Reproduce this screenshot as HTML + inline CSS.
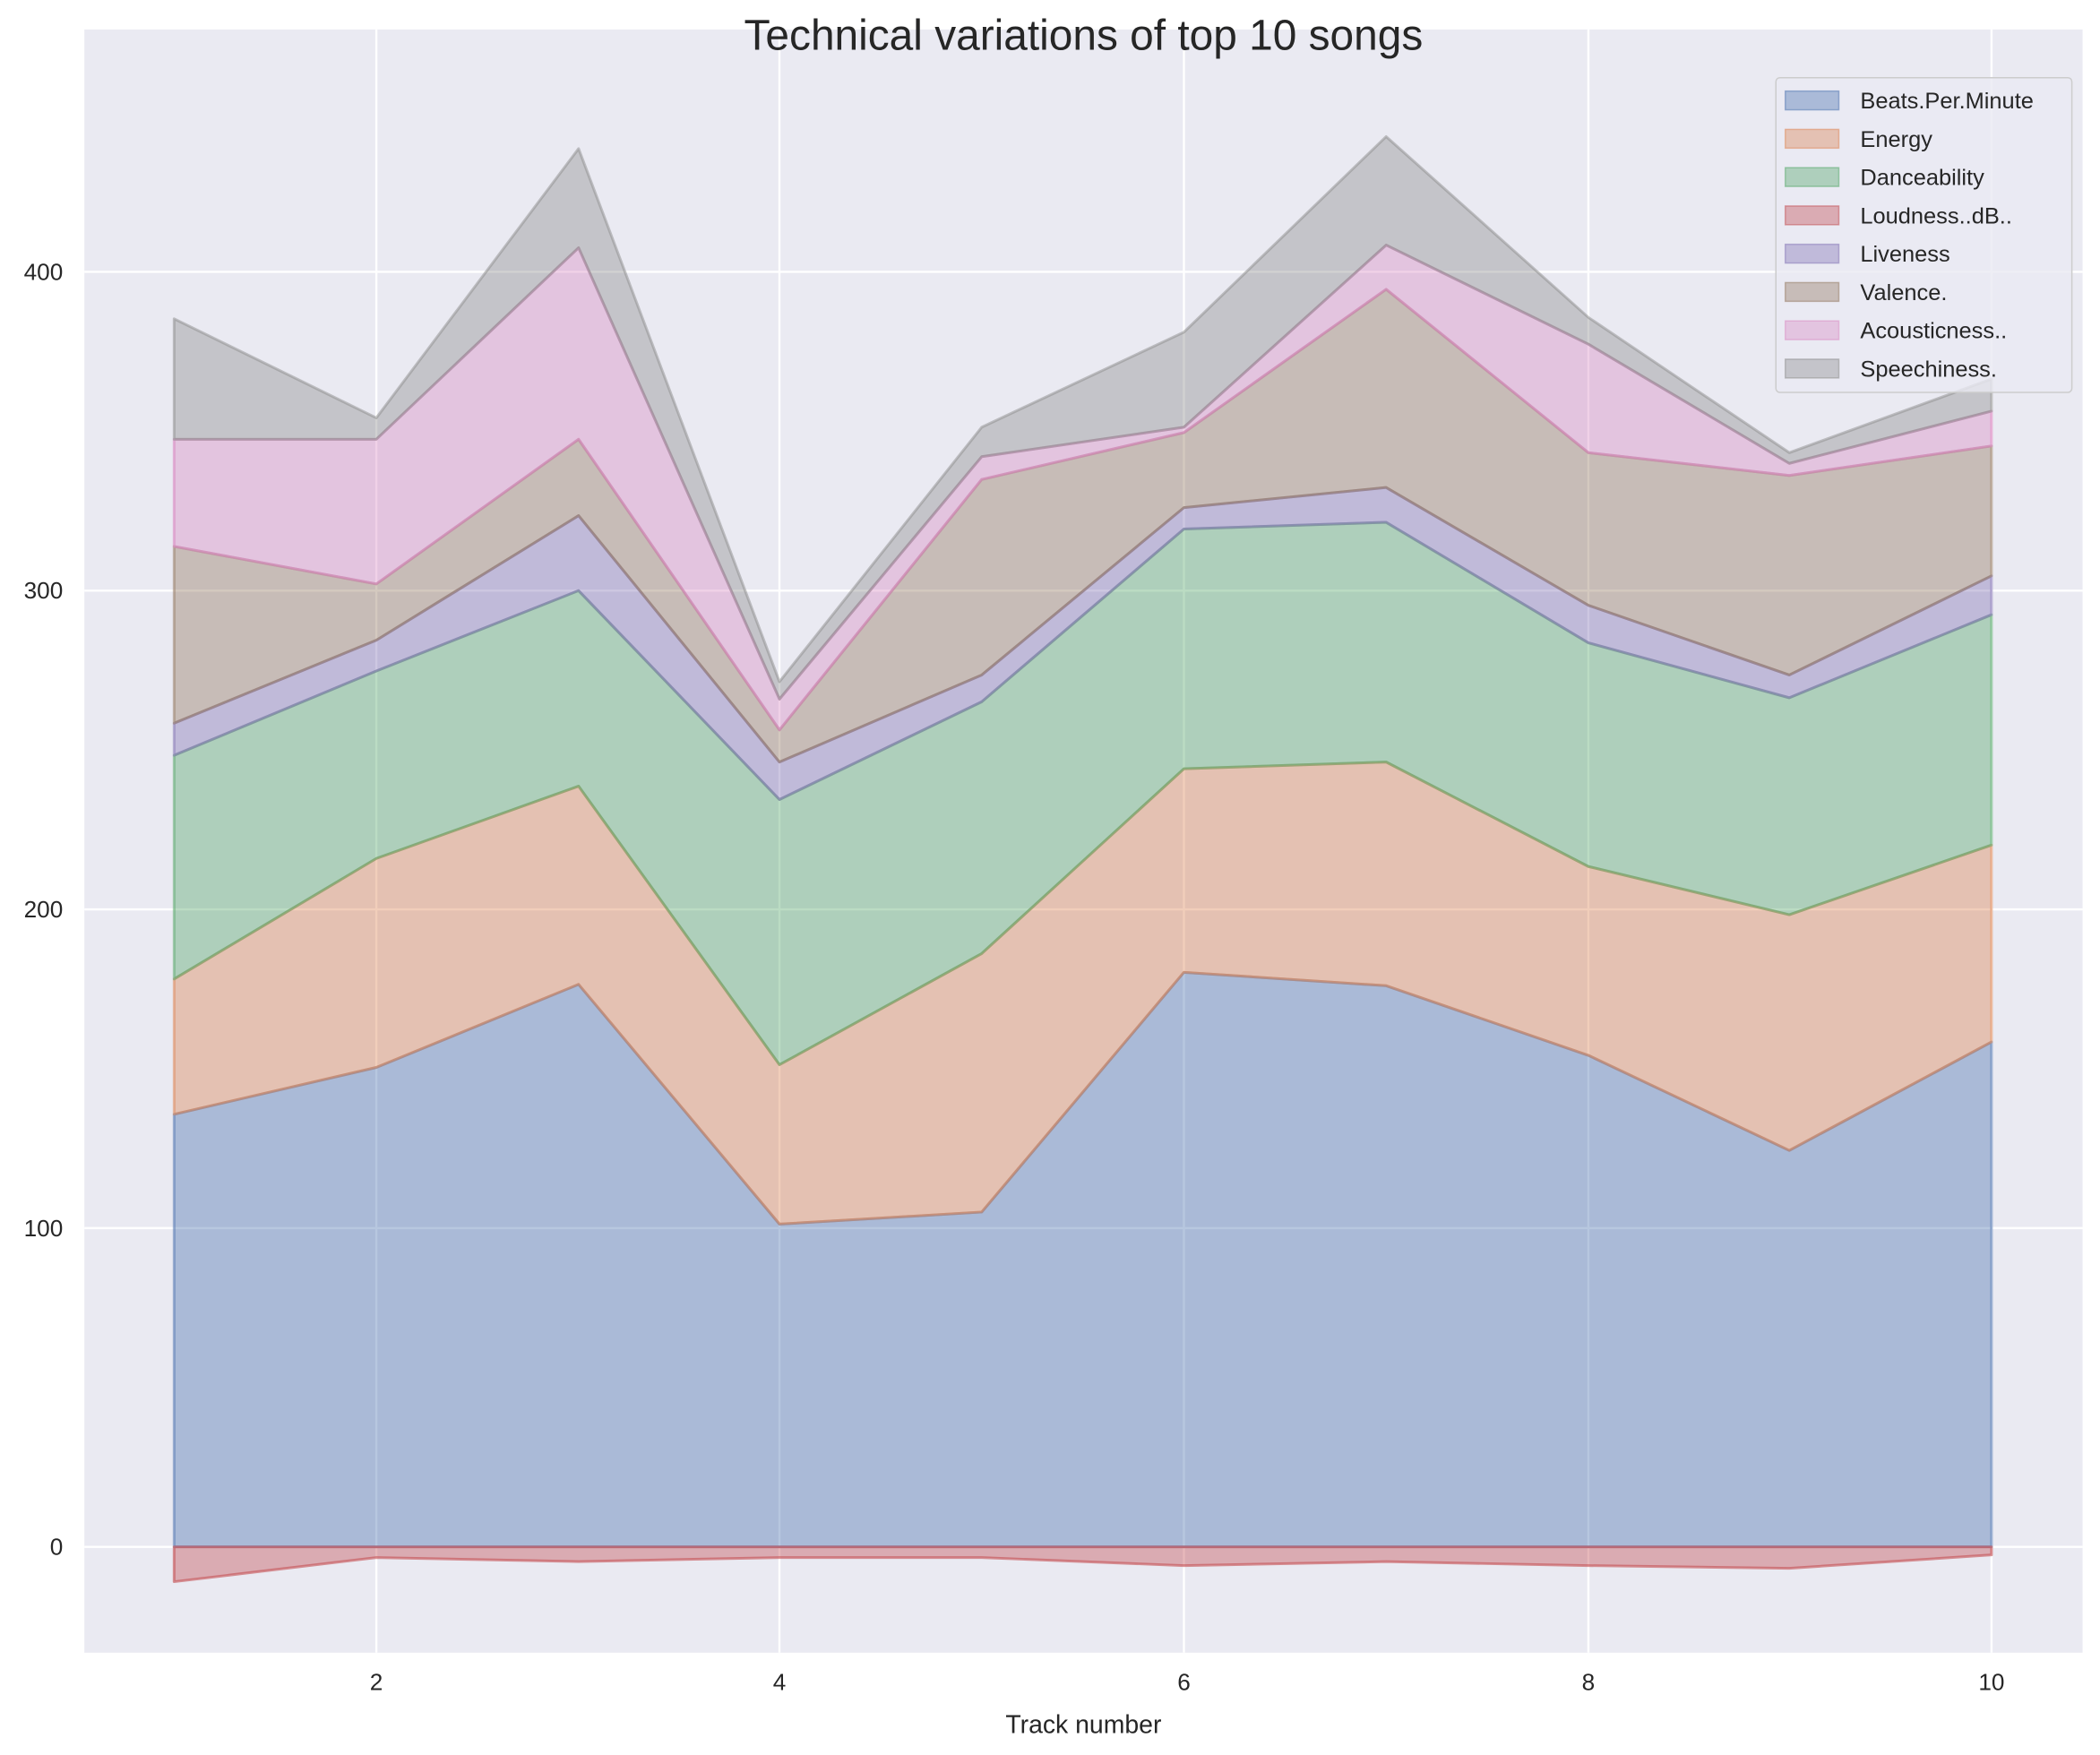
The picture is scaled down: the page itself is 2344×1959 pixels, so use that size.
<!DOCTYPE html>
<html><head><meta charset="utf-8"><style>html,body{margin:0;padding:0;background:#fff}svg{display:block}text{font-family:"Liberation Sans",sans-serif;fill:#262626}</style></head>
<body>
<svg width="2344" height="1959" viewBox="0 0 1568 1310.4" preserveAspectRatio="none" xmlns="http://www.w3.org/2000/svg">
<rect x="0" y="0" width="1568" height="1310.4" fill="#fff"/>
<rect x="63" y="22" width="1492" height="1212" fill="#eaeaf2"/>
<g stroke="#fff" stroke-width="1.6">
<line x1="281" y1="22" x2="281" y2="1234"/><line x1="582" y1="22" x2="582" y2="1234"/><line x1="884" y1="22" x2="884" y2="1234"/><line x1="1186" y1="22" x2="1186" y2="1234"/><line x1="1487" y1="22" x2="1487" y2="1234"/>
<line x1="63" y1="1155" x2="1555" y2="1155"/><line x1="63" y1="917" x2="1555" y2="917"/><line x1="63" y1="679" x2="1555" y2="679"/><line x1="63" y1="441" x2="1555" y2="441"/><line x1="63" y1="203" x2="1555" y2="203"/>
</g>
<g stroke-width="2" stroke-linejoin="round">
<polygon fill="#4c72b0" fill-opacity="0.4" stroke="#4c72b0" stroke-opacity="0.5" points="130,1155 130,832 281,797 432,735 582,914 733,905 884,726 1035,736 1186,788 1336,859 1487,778 1487,1155"/>
<polygon fill="#dd8452" fill-opacity="0.4" stroke="#dd8452" stroke-opacity="0.5" points="130,832 281,797 432,735 582,914 733,905 884,726 1035,736 1186,788 1336,859 1487,778 1487,631 1336,683 1186,647 1035,569 884,574 733,712 582,795 432,587 281,641 130,731"/>
<polygon fill="#55a868" fill-opacity="0.4" stroke="#55a868" stroke-opacity="0.5" points="130,731 281,641 432,587 582,795 733,712 884,574 1035,569 1186,647 1336,683 1487,631 1487,459 1336,521 1186,480 1035,390 884,395 733,524 582,597 432,441 281,501 130,564"/>
<polygon fill="#c44e52" fill-opacity="0.4" stroke="#c44e52" stroke-opacity="0.6" points="130,1155 281,1155 432,1155 582,1155 733,1155 884,1155 1035,1155 1186,1155 1336,1155 1487,1155 1487,1161 1336,1171 1186,1169 1035,1166 884,1169 733,1163 582,1163 432,1166 281,1163 130,1181"/>
<polygon fill="#8172b3" fill-opacity="0.4" stroke="#8172b3" stroke-opacity="0.5" points="130,564 281,501 432,441 582,597 733,524 884,395 1035,390 1186,480 1336,521 1487,459 1487,430 1336,504 1186,452 1035,364 884,379 733,504 582,569 432,385 281,478 130,540"/>
<polygon fill="#937860" fill-opacity="0.4" stroke="#937860" stroke-opacity="0.5" points="130,540 281,478 432,385 582,569 733,504 884,379 1035,364 1186,452 1336,504 1487,430 1487,333 1336,355 1186,338 1035,216 884,323 733,358 582,545 432,328 281,436 130,408"/>
<polygon fill="#da8bc3" fill-opacity="0.4" stroke="#da8bc3" stroke-opacity="0.6" points="130,408 281,436 432,328 582,545 733,358 884,323 1035,216 1186,338 1336,355 1487,333 1487,307 1336,346 1186,257 1035,183 884,319 733,341 582,522 432,185 281,328 130,328"/>
<polygon fill="#8c8c8c" fill-opacity="0.4" stroke="#8c8c8c" stroke-opacity="0.5" points="130,328 281,328 432,185 582,522 733,341 884,319 1035,183 1186,257 1336,346 1487,307 1487,283 1336,338 1186,237 1035,102 884,248 733,319 582,509 432,111 281,312 130,238"/>
</g>
<g font-size="17.5" text-anchor="end">
<text x="47" y="1161">0</text><text x="47" y="923">100</text><text x="47" y="685">200</text><text x="47" y="447">300</text><text x="47" y="209">400</text>
</g>
<g font-size="17.5" text-anchor="middle">
<text x="281" y="1262">2</text><text x="582" y="1262">4</text><text x="884" y="1262">6</text><text x="1186" y="1262">8</text><text x="1487" y="1262">10</text>
</g>
<text x="809" y="1294" font-size="19" text-anchor="middle">Track number</text>
<text x="809" y="37" font-size="32" text-anchor="middle">Technical variations of top 10 songs</text>
<g>
<rect x="1326" y="58" width="221" height="235" rx="3" fill="#eaeaf2" fill-opacity="0.8" stroke="#cccccc" stroke-width="1"/>
<g font-size="17">
<rect x="1333" y="68" width="40" height="14" fill="#4c72b0" fill-opacity="0.4" stroke="#4c72b0" stroke-opacity="0.5"/><text x="1389" y="81">Beats.Per.Minute</text>
<rect x="1333" y="96.6" width="40" height="14" fill="#dd8452" fill-opacity="0.4" stroke="#dd8452" stroke-opacity="0.5"/><text x="1389" y="109.6">Energy</text>
<rect x="1333" y="125.2" width="40" height="14" fill="#55a868" fill-opacity="0.4" stroke="#55a868" stroke-opacity="0.5"/><text x="1389" y="138.2">Danceability</text>
<rect x="1333" y="153.8" width="40" height="14" fill="#c44e52" fill-opacity="0.4" stroke="#c44e52" stroke-opacity="0.5"/><text x="1389" y="166.8">Loudness..dB..</text>
<rect x="1333" y="182.4" width="40" height="14" fill="#8172b3" fill-opacity="0.4" stroke="#8172b3" stroke-opacity="0.5"/><text x="1389" y="195.4">Liveness</text>
<rect x="1333" y="211" width="40" height="14" fill="#937860" fill-opacity="0.4" stroke="#937860" stroke-opacity="0.5"/><text x="1389" y="224">Valence.</text>
<rect x="1333" y="239.6" width="40" height="14" fill="#da8bc3" fill-opacity="0.4" stroke="#da8bc3" stroke-opacity="0.5"/><text x="1389" y="252.6">Acousticness..</text>
<rect x="1333" y="268.2" width="40" height="14" fill="#8c8c8c" fill-opacity="0.4" stroke="#8c8c8c" stroke-opacity="0.5"/><text x="1389" y="281.2">Speechiness.</text>
</g>
</g>
</svg>
</body></html>
